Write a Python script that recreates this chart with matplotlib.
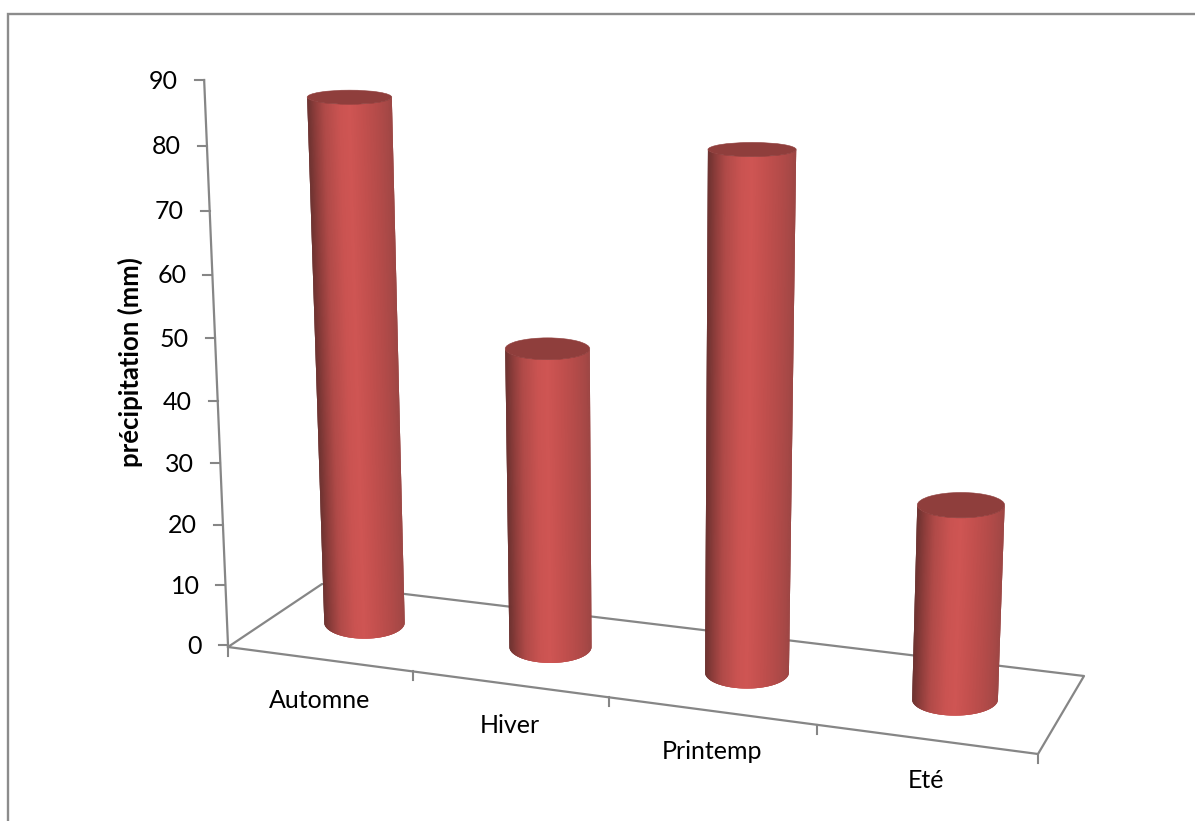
import numpy as np
import matplotlib
matplotlib.use("Agg")
import matplotlib.pyplot as plt
from matplotlib.collections import PolyCollection
from matplotlib.patches import Ellipse

categories = ["Automne", "Hiver", "Printemp", "Eté"]
precipitation = [83, 47, 79, 29.5]
y_ticks = [0, 10, 20, 30, 40, 50, 60, 70, 80, 90]
y_title = "précipitation (mm)"

FONT = "Lato"
AXC = "#868686"

fig = plt.figure(figsize=(11.95, 8.21), dpi=100)
ax = fig.add_axes([0, 0, 1, 1])
ax.set_xlim(0, 1195)
ax.set_ylim(821, 0)
ax.axis("off")

# --- pseudo-3D scale: floor homography (u along categories, d in depth) ---
src = np.array([[0, 0], [4, 0], [4, 1], [0, 1]], float)
dst = np.array([[228, 647], [1038, 754], [1084, 676], [322, 584]], float)
A = []
for (u, d), (x, y) in zip(src, dst):
    A.append([u, d, 1, 0, 0, 0, -u * x, -d * x])
    A.append([0, 0, 0, u, d, 1, -u * y, -d * y])
b_vec = dst.flatten()
H = np.append(np.linalg.solve(np.array(A), b_vec), 1).reshape(3, 3)


def floor(u, d):
    p = H @ np.array([u, d, 1.0])
    return p[0] / p[2], p[1] / p[2]


VPX = 650.0
PERSP = 1e-4


def radius(x):
    return 40.2 + (x - 364) * 0.0045


def height(v, x=None):
    k = 1.0 if x is None else (40.5 + (x - 364) * 0.0051) / 40.0
    return (5.95 * v + 0.00364 * v * v) * k


def lift(x, y, h):
    return VPX + (x - VPX) * (1 + h * PERSP), y - h


def shade(t):
    stops_t = [0.0, 0.05, 0.17, 0.35, 0.5, 0.62, 0.8, 0.92, 1.0]
    stops_c = np.array([
        [0x9d, 0x45, 0x43], [0xa6, 0x48, 0x46], [0xb4, 0x4b, 0x49], [0xc4, 0x50, 0x4e], [0xcf, 0x55, 0x53],
        [0xca, 0x53, 0x51], [0xb0, 0x4a, 0x48], [0x8a, 0x3c, 0x3a], [0x6a, 0x30, 0x2e]]) / 255
    return [np.interp(t, stops_t, stops_c[:, i]) for i in range(3)]


# --- frame ---
ax.plot([8.5, 8.5, 1195], [821, 14, 14], color="#8c8c8c", lw=1.7, solid_joinstyle="miter")

# --- floor ---
corners = [floor(0, 0), floor(4, 0), floor(4, 1), floor(0, 1), floor(0, 0)]
ax.plot(*zip(*corners), color=AXC, lw=1.6, zorder=1)
for i in range(len(categories) + 1):
    x, y = floor(i, 0)
    ax.plot([x, x], [y, y + 9], color=AXC, lw=1.5, zorder=1)

# --- value axis ---
x0, y0 = floor(0, 0)
y0 -= 2
xa, ya = zip(*[lift(x0, y0, height(v)) for v in np.linspace(0, max(y_ticks), 20)])
ax.plot(xa, ya, color=AXC, lw=1.6, zorder=1)
for v in y_ticks:
    x, y = lift(x0, y0, height(v))
    ax.plot([x - 9, x], [y, y], color=AXC, lw=1.5, zorder=1)
    ax.text(x - 26, y + 1, str(v), ha="right", va="center", fontsize=18, family=FONT, color="black")

ax.text(130, 362, y_title, rotation=90, ha="center", va="center", fontsize=18.5,
        family=FONT, fontweight="bold", color="black")

# --- category labels ---
for i, c in enumerate(categories):
    x, y = floor(i + 0.5, 0)
    ax.text(x, y + 41, c, ha="center", va="center", fontsize=18, family=FONT, color="black")

# --- cylinders ---
theta = np.linspace(np.pi, 0, 161)
for i, v in enumerate(precipitation):
    xb, yb = floor(i + 0.5, 0.5)
    xb += -1 + 0.8 * i
    yb += -3 + 0.9 * i
    h = height(v, xb)
    xt, yt = lift(xb, yb, h)
    rb = radius(xb)
    rt = rb * (1 + h * PERSP)
    bb = 16.0
    bt = 16.0 - 0.017 * h
    polys, cols = [], []
    n = len(theta)
    for k in range(n - 1):
        # each slice overlaps the next so no background shows through the seams
        arc = theta[k:min(k + 4, n)]
        bottom = [(xb + rb * np.cos(a), yb + bb * np.sin(a)) for a in arc]
        top = [(xt + rt * np.cos(a), yt + bt * np.sin(a)) for a in arc[::-1]]
        polys.append(bottom + top)
        t = 0.5 - 0.5 * np.cos(0.5 * (theta[k] + theta[k + 1]))
        cols.append(shade(t))
    ax.add_collection(PolyCollection(polys, facecolors=cols, edgecolors="none", linewidths=0, zorder=3))
    ax.add_patch(Ellipse((xt, yt), 2 * rt, 2 * bt, facecolor="#8f3e3c", edgecolor="#8f3e3c", lw=0.4, zorder=4))

fig.savefig("out.png", dpi=100)
